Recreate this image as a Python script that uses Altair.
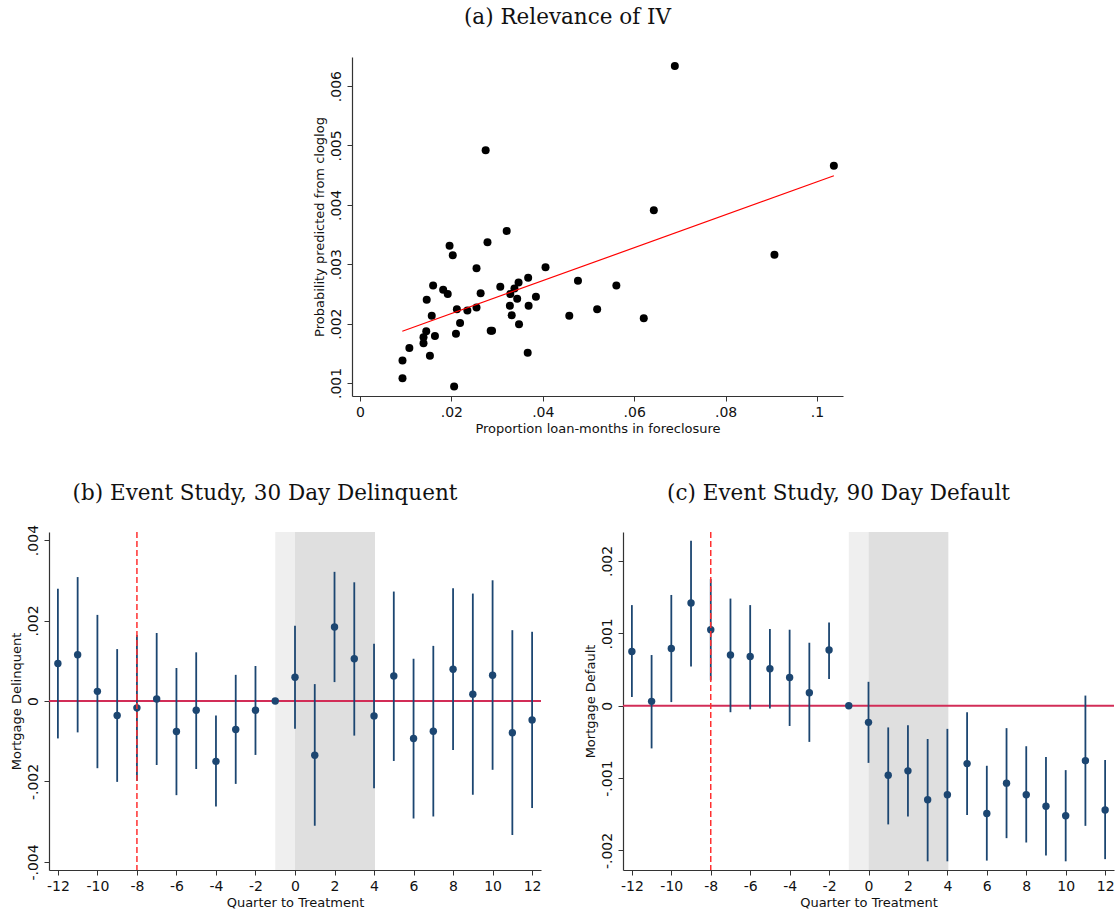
import altair as alt
import pandas as pd

# ---------------- Panel (a): scatter data ----------------
iv_x = [0.0093, 0.0093, 0.0108, 0.0139, 0.0139, 0.0145, 0.0146, 0.0153, 0.0157, 0.0164,
        0.0160, 0.0182, 0.0192, 0.0196, 0.0203, 0.0206, 0.0210, 0.0212, 0.0219, 0.0235,
        0.0255, 0.0255, 0.0264, 0.0279, 0.0289, 0.0286, 0.0321, 0.0307, 0.0329, 0.0338,
        0.0347, 0.0328, 0.0332, 0.0344, 0.0348, 0.0368, 0.0369, 0.0367, 0.0385, 0.0406,
        0.0458, 0.0477, 0.0519, 0.0561, 0.0621, 0.0643, 0.0689, 0.0907, 0.1037, 0.0275]
iv_y = [0.00108, 0.00138, 0.00159, 0.00167, 0.00177, 0.00187, 0.00240, 0.00146, 0.00213, 0.00179,
        0.00264, 0.00257, 0.00250, 0.00331, 0.00315, 0.00094, 0.00183, 0.00224, 0.00201, 0.00222,
        0.00293, 0.00227, 0.00251, 0.00337, 0.00188, 0.00188, 0.00356, 0.00262, 0.00250, 0.00259,
        0.00269, 0.00230, 0.00214, 0.00242, 0.00199, 0.00277, 0.00230, 0.00151, 0.00245, 0.00295,
        0.00213, 0.00272, 0.00224, 0.00264, 0.00209, 0.00391, 0.00634, 0.00316, 0.00466, 0.00492]
fit_x = [0.00926, 0.1037]
fit_y = [0.00187, 0.00449]
iv_xticks = [0, 0.02, 0.04, 0.06, 0.08, 0.1]
iv_yticks = [0.001, 0.002, 0.003, 0.004, 0.005, 0.006]
iv_xdom = [-0.00175, 0.1057]
iv_ydom = [0.00078, 0.00649]

# ---------------- Panels (b) and (c): event studies ----------------
quarters = list(range(-12, 13))
delinq_est = [0.00093, 0.00115, 0.00024, -0.00036, -0.00017, 0.00005, -0.00076, -0.00023, -0.00150,
              -0.00071, -0.00023, 0.0, 0.00059, -0.00135, 0.00184, 0.00105, -0.00037, 0.00062,
              -0.00093, -0.00075, 0.00079, 0.00017, 0.00064, -0.00079, -0.00047]
delinq_lo = [-0.00093, -0.00078, -0.00167, -0.00201, -0.00199, -0.00159, -0.00234, -0.00169, -0.00262,
             -0.00206, -0.00134, None, -0.00069, -0.00310, 0.00047, -0.00086, -0.00217, -0.00149,
             -0.00292, -0.00287, -0.00122, -0.00233, -0.00171, -0.00333, -0.00266]
delinq_hi = [0.00279, 0.00308, 0.00214, 0.00129, 0.00164, 0.00169, 0.00082, 0.00121, -0.00036,
             0.00065, 0.00087, None, 0.00187, 0.00042, 0.00321, 0.00295, 0.00142, 0.00272,
             0.00105, 0.00137, 0.00280, 0.00267, 0.00300, 0.00176, 0.00172]

default_est = [0.00075, 0.00006, 0.00079, 0.00142, 0.00105, 0.00070, 0.00068, 0.00051, 0.00039,
               0.00018, 0.00077, 0.0, -0.00023, -0.00096, -0.00090, -0.00130, -0.00123, -0.00080,
               -0.00149, -0.00107, -0.00123, -0.00139, -0.00152, -0.00076, -0.00144]
default_lo = [0.00012, -0.00059, 0.00005, 0.00054, 0.00035, -0.00009, -0.00005, -0.00004, -0.00028,
              -0.00050, 0.00037, None, -0.00079, -0.00164, -0.00153, -0.00215, -0.00215, -0.00151,
              -0.00214, -0.00183, -0.00189, -0.00207, -0.00215, -0.00166, -0.00212]
default_hi = [0.00139, 0.00070, 0.00153, 0.00228, 0.00175, 0.00148, 0.00139, 0.00106, 0.00105,
              0.00087, 0.00115, None, 0.00033, -0.00030, -0.00027, -0.00046, -0.00032, -0.00009,
              -0.00083, -0.00031, -0.00056, -0.00071, -0.00089, 0.00014, -0.00075]

q_ticks = list(range(-12, 13, 2))
q_dom = [-12.45, 12.45]
delinq_dom = [-0.0042, 0.0042]
delinq_ticks = [-0.004, -0.002, 0, 0.002, 0.004]
default_dom = [-0.00227, 0.0024]
default_ticks = [-0.002, -0.001, 0, 0.001, 0.002]

ref_quarter = [-8]
shade_light = [-1, 0]
shade_dark = [0, 4.05]

FONT = "DejaVu Sans"
TFONT = "DejaVu Serif"
NAVY = "#1c4671"

num_expr = ("datum.value == 0 ? '0' : (datum.value < 0 ? '-' : '') + "
            "replace(format(abs(datum.value), '~g'), '0.', '.')")
int_expr = "(datum.value < 0 ? '-' : '') + format(abs(datum.value), 'd')"


def title_params(text, offset):
    return alt.TitleParams(text=text, font=TFONT, fontSize=21.5, fontWeight="normal",
                           color="#111", anchor="middle", frame="group", offset=offset, dx=-30)


# ---------------- Panel (a) ----------------
iv_df = pd.DataFrame({"x": iv_x, "y": iv_y})
fit_df = pd.DataFrame({"x": fit_x, "y": fit_y})

xs_a = alt.Scale(domain=iv_xdom, nice=False, zero=False)
ys_a = alt.Scale(domain=iv_ydom, nice=False, zero=False)

pts_a = alt.Chart(iv_df).mark_circle(size=64, color="black", opacity=1).encode(
    x=alt.X("x:Q", scale=xs_a,
            axis=alt.Axis(values=iv_xticks, labelExpr=num_expr,
                          title="Proportion loan-months in foreclosure")),
    y=alt.Y("y:Q", scale=ys_a,
            axis=alt.Axis(values=iv_yticks, labelExpr=num_expr, labelAngle=270,
                          title="Probability predicted from cloglog")),
)
fit_a = alt.Chart(fit_df).mark_line(color="#ff0000", strokeWidth=1.2).encode(
    x=alt.X("x:Q", scale=xs_a), y=alt.Y("y:Q", scale=ys_a)
)
panel_a = alt.layer(pts_a, fit_a).properties(
    width=491, height=339, title=title_params("(a) Relevance of IV", 29)
)

spacer = alt.Chart(pd.DataFrame({"a": [0]})).mark_point(opacity=0).encode(
    x=alt.X("a:Q", axis=None), y=alt.Y("a:Q", axis=None)
).properties(width=263, height=339)

top_row = alt.hconcat(spacer, panel_a, spacing=0)


# ---------------- Panels (b), (c) ----------------
def event_panel(est, lo, hi, ydom, yticks, ytitle, title, width, toff):
    df = pd.DataFrame({"q": quarters, "est": est, "lo": lo, "hi": hi})
    ci_df = df.dropna()
    xs = alt.Scale(domain=q_dom, nice=False, zero=False)
    ys = alt.Scale(domain=ydom, nice=False, zero=False)

    light = alt.Chart(pd.DataFrame({"x": [shade_light[0]], "x2": [shade_light[1]],
                                    "y": [ydom[0]], "y2": [ydom[1]]})).mark_rect(color="#efefef").encode(
        x=alt.X("x:Q", scale=xs), x2="x2:Q", y=alt.Y("y:Q", scale=ys), y2="y2:Q")
    dark = alt.Chart(pd.DataFrame({"x": [shade_dark[0]], "x2": [shade_dark[1]],
                                   "y": [ydom[0]], "y2": [ydom[1]]})).mark_rect(color="#dfdfdf").encode(
        x=alt.X("x:Q", scale=xs), x2="x2:Q", y=alt.Y("y:Q", scale=ys), y2="y2:Q")
    zero = alt.Chart(pd.DataFrame({"y": [0]})).mark_rule(color="#d22d57", strokeWidth=2).encode(
        y=alt.Y("y:Q", scale=ys))
    vline = alt.Chart(pd.DataFrame({"x": ref_quarter})).mark_rule(
        color="#ff3030", strokeWidth=1.5, strokeDash=[6, 3]).encode(x=alt.X("x:Q", scale=xs))
    ci = alt.Chart(ci_df).mark_rule(color=NAVY, strokeWidth=1.8).encode(
        x=alt.X("q:Q", scale=xs), y=alt.Y("lo:Q", scale=ys), y2="hi:Q")
    pts = alt.Chart(df).mark_circle(size=55, color=NAVY, opacity=1).encode(
        x=alt.X("q:Q", scale=xs,
                axis=alt.Axis(values=q_ticks, labelExpr=int_expr, title="Quarter to Treatment")),
        y=alt.Y("est:Q", scale=ys,
                axis=alt.Axis(values=yticks, labelExpr=num_expr, labelAngle=270, title=ytitle)),
    )
    return alt.layer(light, dark, zero, ci, pts, vline).properties(
        width=width, height=338, title=title_params(title, toff))


panel_b = event_panel(delinq_est, delinq_lo, delinq_hi, delinq_dom, delinq_ticks,
                      "Mortgage Delinquent", "(b) Event Study, 30 Day Delinquent", 492, 20)
panel_c = event_panel(default_est, default_lo, default_hi, default_dom, default_ticks,
                      "Mortgage Default", "(c) Event Study, 90 Day Default", 491, 27)

bottom_row = alt.hconcat(panel_b, panel_c, spacing=41)

chart = alt.vconcat(top_row, bottom_row, spacing=47).configure_view(stroke=None).configure_axis(
    grid=False, domainColor="#333", tickColor="#333", tickSize=5, domainWidth=1.2,
    labelFont=FONT, labelFontSize=14, labelColor="#111", labelPadding=4,
    titleFont=FONT, titleFontSize=13, titleFontWeight="normal", titleColor="#111", titlePadding=3,
).properties(padding={"left": 10, "top": 6, "right": 0, "bottom": 0}, background="white")

chart.save("out.html", embed_options={"renderer": "svg", "actions": False})
